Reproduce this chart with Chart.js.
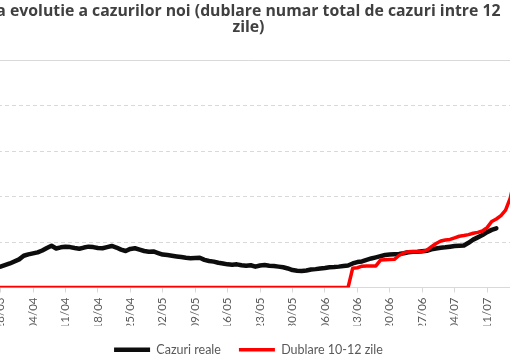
<!DOCTYPE html>
<html>
<head>
<meta charset="utf-8">
<script src="https://cdn.jsdelivr.net/npm/chart.js@4.4.1/dist/chart.umd.min.js"></script>
<style>
    html, body { margin: 0; padding: 0; overflow: hidden; background: #fff; }
    #wrap { position: absolute; left: -28px; top: 0; }
</style>
</head>
<body>
<div id="wrap"><canvas id="chart" width="558" height="366"></canvas></div>
<script>
// zile numarate de la 28/03
const tickLabels = ['28/03', '04/04', '11/04', '18/04', '25/04', '02/05', '09/05', '16/05',
    '23/05', '30/05', '06/06', '13/06', '20/06', '27/06', '04/07', '11/07'];

const realDays = [-3, 0, 2, 4, 5, 6, 8, 9, 10, 11, 12, 13, 14, 15, 16, 17, 18, 19, 20,
    21, 22, 23, 24, 25, 26, 27, 28, 29, 30, 31, 32, 33, 34, 35, 36, 37, 38, 39, 40,
    41, 42, 43, 44, 45, 46, 47, 48, 49, 50, 51, 52, 53, 54, 55, 56, 57, 58, 59, 60,
    61, 62, 63, 64, 65, 66, 67, 68, 69, 70, 71, 72, 73, 74, 75, 76, 77, 78, 79, 80,
    81, 82, 83, 84, 85, 86, 87, 88, 89, 90, 91, 92, 93, 94, 95, 96, 97, 98, 99, 100,
    101, 102, 103, 104, 105, 106, 107];
const realValues = [38.5, 46, 53, 62, 70, 73, 77.5, 81.5, 87, 92, 86, 88.5, 90, 89, 87, 85.5, 88, 90, 89,
    87, 86.5, 89, 91.5, 88, 83.5, 80.5, 85, 86.5, 83.5, 80.5, 79, 79.5, 76, 72.5, 71.5, 70, 68.5, 67, 65.5,
    64.5, 65, 65.5, 61, 58.5, 57, 54.5, 53, 51, 50, 51, 49, 48, 49, 46, 48.5, 49.5, 48, 47.5, 46,
    44.5, 42, 38.5, 37, 36.5, 37.5, 39.5, 40.5, 42, 43, 44.5, 45, 46, 47.5, 48.5, 53, 56, 57.5, 61, 64,
    66.5, 69, 71.5, 72.5, 73.5, 74, 75.5, 77.5, 78.5, 79, 80, 81, 84, 86, 87.5, 88.5, 90, 91.5, 92, 92.5,
    98.5, 105.5, 110.5, 115.5, 122, 127, 130.5];

const doublingDays = [-5, 75, 76, 77, 78, 79, 80, 81, 82, 83, 84, 85, 86, 87, 88, 89, 90,
    91, 92, 93, 94, 95, 96, 97, 98, 99, 100, 101, 102, 103, 104, 105, 106, 107, 108, 109, 110, 111];
const doublingValues = [0, 0, 42.5, 43.5, 47, 47.5, 47.5, 47.5, 60.5, 61, 61.5, 62, 70.5, 76, 79, 79, 79,
    79, 82.5, 90, 97, 102.5, 104.5, 106, 109.5, 113, 114.5, 116.5, 119.5, 121.5, 124.5, 132, 145.5, 151,
    158.5, 170.5, 197, 241];

const toPoints = (days, values) => days.map((d, i) => ({ x: d, y: values[i] }));

const textColor = '#595959';
const gridColor = '#d9d9d9';

new Chart(document.getElementById('chart'), {
    type: 'line',
    data: {
        datasets: [{
            label: 'Cazuri reale',
            data: toPoints(realDays, realValues),
            borderColor: '#0d0d0d',
            backgroundColor: '#0d0d0d',
            borderWidth: 4.5,
            pointRadius: 0,
            tension: 0,
            borderCapStyle: 'round',
            borderJoinStyle: 'round',
            order: 2,
        }, {
            label: 'Dublare 10-12 zile',
            data: toPoints(doublingDays, doublingValues),
            borderColor: '#ff0000',
            backgroundColor: '#ff0000',
            borderWidth: 3.5,
            pointRadius: 0,
            tension: 0,
            borderCapStyle: 'round',
            borderJoinStyle: 'round',
            order: 1,
        }],
    },
    options: {
        responsive: false,
        animation: false,
        layout: { padding: { left: 5.4, right: 10.5, top: 0, bottom: 0 } },
        plugins: {
            title: {
                display: true,
                text: ['a evolutie a cazurilor noi (dublare numar total de cazuri intre 12', 'zile)'],
                color: '#404040',
                font: { family: 'Open Sans', size: 15.8, weight: 'bold', lineHeight: 1.0 },
                padding: { top: 4, bottom: 25 },
            },
            legend: {
                position: 'bottom',
                labels: {
                    usePointStyle: true,
                    pointStyle: 'line',
                    pointStyleWidth: 36,
                    padding: 18,
                    color: textColor,
                    font: { family: 'Lato', size: 12.5 },
                    sort: (a, b) => a.datasetIndex - b.datasetIndex,
                },
            },
            tooltip: { enabled: false },
        },
        scales: {
            x: {
                type: 'linear',
                min: -5,
                max: 112,
                afterBuildTicks: scale => {
                    scale.ticks = tickLabels.map((_, i) => ({ value: i * 7 }));
                },
                afterFit: scale => {
                    scale.height = 38;
                },
                ticks: {
                    autoSkip: false,
                    maxRotation: 90,
                    minRotation: 90,
                    padding: 5,
                    color: textColor,
                    font: { family: 'Lato', size: 11.5 },
                    callback: val => tickLabels[Math.round(val / 7)],
                },
                grid: { drawOnChartArea: false, drawTicks: true, tickLength: 5, color: gridColor },
                border: { display: true, color: gridColor, width: 1 },
            },
            y: {
                min: 0,
                max: 500,
                ticks: { display: false, stepSize: 100 },
                grid: { drawTicks: false, color: gridColor, lineWidth: 1 },
                border: {
                    display: false,
                    dash: ctx => (ctx.tick && ctx.tick.value === 500 ? [] : [4, 3]),
                },
            },
        },
    },
});
</script>
</body>
</html>
